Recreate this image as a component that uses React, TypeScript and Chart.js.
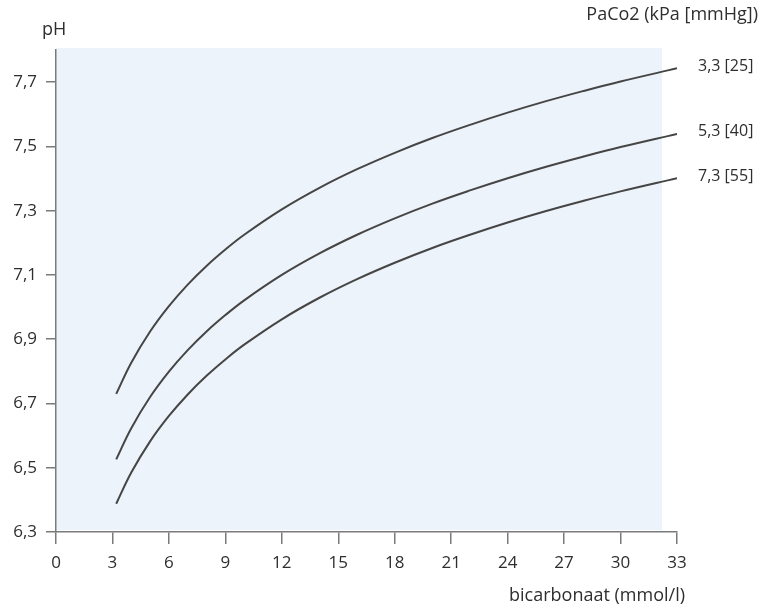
import React, { useEffect, useRef } from "react";
import { Chart, registerables } from "chart.js";

Chart.register(...registerables);

// bicarbonaat (mmol/l) sample positions
const bicarbonate = [3.2, 4, 5, 6, 7, 8, 9, 10, 12, 14, 16, 18, 20, 22, 24, 26, 28, 30, 33];
// pH values along each PaCO2 isobar
const pH_25 = [6.730, 6.827, 6.924, 7.003, 7.070, 7.128, 7.179, 7.225, 7.304, 7.371, 7.429, 7.480, 7.526, 7.567, 7.605, 7.640, 7.672, 7.702, 7.743];
const pH_40 = [6.526, 6.623, 6.720, 6.799, 6.866, 6.924, 6.975, 7.021, 7.100, 7.167, 7.225, 7.276, 7.322, 7.363, 7.401, 7.436, 7.468, 7.498, 7.539];
const pH_55 = [6.388, 6.485, 6.582, 6.661, 6.728, 6.786, 6.837, 6.883, 6.962, 7.029, 7.087, 7.138, 7.184, 7.225, 7.263, 7.298, 7.330, 7.360, 7.401];
const seriesLabels = ["3,3 [25]", "5,3 [40]", "7,3 [55]"];
const yTicks = [6.3, 6.5, 6.7, 6.9, 7.1, 7.3, 7.5, 7.7];
const xTicks = [0, 3, 6, 9, 12, 15, 18, 21, 24, 27, 30, 33];
const yTitle = "pH";
const rightTitle = "PaCo2 (kPa [mmHg])";
const xTitle = "bicarbonaat (mmol/l)";

const FONT = "'Open Sans', 'DejaVu Sans', sans-serif";
const TEXT = "#2e2e2e";
const AXIS = "#7a7a7a";
const LINE = "#454545";
const PANEL = "#edf3fa";

export default function App() {
  const ref = useRef<HTMLCanvasElement | null>(null);

  useEffect(() => {
    if (!ref.current) return;
    const series = [pH_25, pH_40, pH_55];

    const bgPlugin = {
      id: "bg",
      beforeDraw(chart: any) {
        const { ctx, chartArea, scales } = chart;
        ctx.save();
        ctx.fillStyle = "#ffffff";
        ctx.fillRect(0, 0, chart.width, chart.height);
        ctx.fillStyle = PANEL;
        const right = scales.x.getPixelForValue(32.2);
        ctx.fillRect(chartArea.left, chartArea.top - 2, right - chartArea.left, chartArea.bottom - chartArea.top);
        ctx.restore();
      },
    };

    const textPlugin = {
      id: "texts",
      afterDraw(chart: any) {
        const { ctx, chartArea } = chart;
        ctx.save();
        ctx.fillStyle = TEXT;
        ctx.textBaseline = "middle";
        ctx.font = `18px ${FONT}`;
        ctx.textAlign = "left";
        ctx.fillText(yTitle, 42, 30);
        ctx.textAlign = "right";
        ctx.fillText(rightTitle, 758, 15);
        ctx.fillText(xTitle, chartArea.right + 8, 596);
        ctx.font = `16px ${FONT}`;
        ctx.textAlign = "left";
        chart.data.datasets.forEach((ds: any, i: number) => {
          const meta = chart.getDatasetMeta(i);
          const last = meta.data[meta.data.length - 1];
          if (!last) return;
          ctx.fillText(seriesLabels[i], last.x + 21, last.y - 2);
        });
        ctx.restore();
      },
    };

    const chart = new Chart(ref.current, {
      type: "line",
      data: {
        datasets: series.map((s, i) => ({
          label: seriesLabels[i],
          data: bicarbonate.map((x, j) => ({ x, y: s[j] })),
          borderColor: LINE,
          borderWidth: 2,
          pointRadius: 0,
          fill: false,
          tension: 0.4,
        })),
      },
      options: {
        animation: false,
        responsive: true,
        maintainAspectRatio: false,
        layout: { padding: { top: 50, right: 90, left: 0, bottom: 0 } },
        plugins: { legend: { display: false }, tooltip: { enabled: false } },
        scales: {
          x: {
            type: "linear",
            min: 0,
            max: 33,
            afterBuildTicks(scale: any) {
              scale.ticks = xTicks.map((v) => ({ value: v }));
            },
            afterFit(scale: any) {
              scale.height = 77;
            },
            ticks: {
              color: TEXT,
              font: { family: FONT, size: 17 },
              padding: 9,
              maxRotation: 0,
              autoSkip: false,
              callback: (v: any) => String(v),
            },
            grid: { drawOnChartArea: false, drawTicks: true, tickLength: 12, color: AXIS, lineWidth: 1.5 },
            border: { display: true, color: AXIS, width: 1.5 },
          },
          y: {
            type: "linear",
            min: 6.3,
            max: 7.8,
            afterBuildTicks(scale: any) {
              scale.ticks = yTicks.map((v) => ({ value: v }));
            },
            afterFit(scale: any) {
              scale.width = 56;
            },
            ticks: {
              color: TEXT,
              font: { family: FONT, size: 17 },
              padding: 9,
              autoSkip: false,
              callback: (v: any) => Number(v).toFixed(1).replace(".", ","),
            },
            grid: { drawOnChartArea: false, drawTicks: true, tickLength: 10, color: AXIS, lineWidth: 1.5 },
            border: { display: true, color: AXIS, width: 1.5 },
          },
        },
      },
      plugins: [bgPlugin, textPlugin],
    });
    return () => chart.destroy();
  }, []);

  return (
    <div style={{ position: "fixed", left: 0, top: 0, width: 767, height: 609, background: "#fff" }}>
      <canvas ref={ref} />
    </div>
  );
}
